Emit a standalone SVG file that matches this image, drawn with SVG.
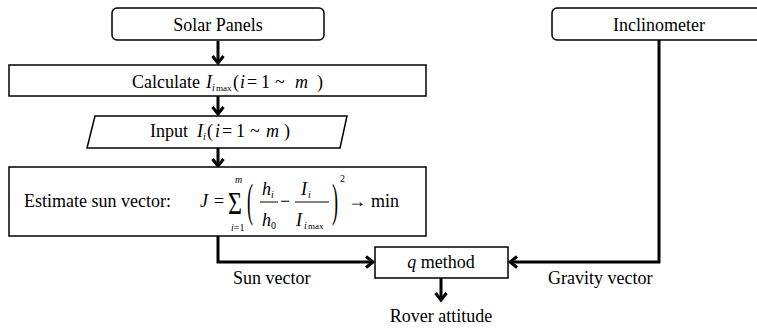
<svg xmlns="http://www.w3.org/2000/svg" width="757" height="329" viewBox="0 0 757 329">
<style>
text{font-family:"Liberation Serif","Times New Roman",serif;font-size:18px;fill:#000}
.it{font-style:italic}
.sub{font-size:10px}
.mx{font-size:9px}
.box{fill:#fff;stroke:#000;stroke-width:1.5}
.conn{fill:none;stroke:#000;stroke-width:3}
.c{text-anchor:middle}
</style>
<defs>
<marker id="ah" markerUnits="userSpaceOnUse" markerWidth="14" markerHeight="14" viewBox="0 0 14 14" refX="10" refY="7" orient="auto">
<path d="M3,1.5 L10,7 L3,12.5" fill="none" stroke="#000" stroke-width="3"/>
</marker>
</defs>
<g id="connectors">
<line class="conn" x1="218" y1="41" x2="218" y2="63" marker-end="url(#ah)"/>
<line class="conn" x1="218" y1="96" x2="218" y2="114" marker-end="url(#ah)"/>
<line class="conn" x1="218" y1="148" x2="218" y2="166" marker-end="url(#ah)"/>
<polyline class="conn" points="218,236 218,262 373,262" marker-end="url(#ah)"/>
<polyline class="conn" points="659,40 659,262 510,262" marker-end="url(#ah)"/>
<line class="conn" x1="441" y1="278" x2="441" y2="300" marker-end="url(#ah)"/>
</g>
<g id="solar">
<rect class="box" x="112" y="8" width="212" height="32" rx="5"/>
<text class="c" x="218" y="31">Solar Panels</text>
</g>
<g id="inclinometer">
<rect class="box" x="552" y="8" width="215" height="32" rx="5"/>
<text class="c" x="659" y="31">Inclinometer</text>
</g>
<g id="calculate">
<rect class="box" x="9" y="65" width="417" height="31"/>
<text x="132" y="88">Calculate</text>
<text class="it" x="206" y="88">I</text>
<text class="it sub" x="212" y="91">i</text>
<text class="mx" x="216" y="91">max</text>
<text x="233" y="88">(</text>
<text class="it" x="240" y="88">i</text>
<text x="247" y="88">=</text>
<text x="261" y="88">1</text>
<text x="275" y="88">~</text>
<text class="it" x="295" y="88">m</text>
<text x="317" y="88">)</text>
</g>
<g id="input">
<polygon class="box" points="95,116 347,116 340,148 87,148"/>
<text x="150" y="137">Input</text>
<text class="it" x="197" y="137">I</text>
<text class="it sub" x="203" y="140">i</text>
<text x="207" y="137">(</text>
<text class="it" x="215" y="137">i</text>
<text x="222" y="137">=</text>
<text x="236" y="137">1</text>
<text x="250" y="137">~</text>
<text class="it" x="266" y="137">m</text>
<text x="284" y="137">)</text>
</g>
<g id="estimate">
<rect class="box" x="9" y="167" width="417" height="69"/>
<text x="24" y="207">Estimate sun vector:</text>
<text class="it" x="200" y="207">J</text>
<text x="214" y="207">=</text>
<text x="228" y="214" transform="translate(228 214) scale(1 1.35) translate(-228 -214)" style="font-size:24px">Σ</text>
<text class="it sub" x="235" y="183">m</text>
<text class="sub" x="231" y="231"><tspan class="it">i</tspan>=1</text>
<text x="247" y="216" transform="translate(247 216) scale(1 2.6) translate(-247 -216)">(</text>
<text class="it" x="262" y="195">h</text>
<text class="it sub" x="271" y="198">i</text>
<line x1="260" y1="202" x2="278" y2="202" stroke="#000" stroke-width="1"/>
<text class="it" x="262" y="226">h</text>
<text class="sub" x="271" y="229">0</text>
<text x="280" y="207">−</text>
<text class="it" x="301" y="195">I</text>
<text class="it sub" x="308" y="198">i</text>
<line x1="295" y1="202" x2="329" y2="202" stroke="#000" stroke-width="1"/>
<text class="it" x="296" y="226">I</text>
<text class="it sub" x="304" y="229">i</text>
<text class="mx" x="308" y="229">max</text>
<text x="332" y="216" transform="translate(332 216) scale(1 2.6) translate(-332 -216)">)</text>
<text class="sub" x="340" y="182">2</text>
<text x="348" y="207">→</text>
<text x="371" y="207">min</text>
</g>
<g id="qmethod">
<rect class="box" x="375" y="247" width="133" height="31"/>
<text class="c" x="441" y="268"><tspan class="it">q</tspan> method</text>
</g>
<g id="labels">
<text x="233" y="284">Sun vector</text>
<text x="548" y="284">Gravity vector</text>
<text class="c" x="441" y="322">Rover attitude</text>
</g>
</svg>
